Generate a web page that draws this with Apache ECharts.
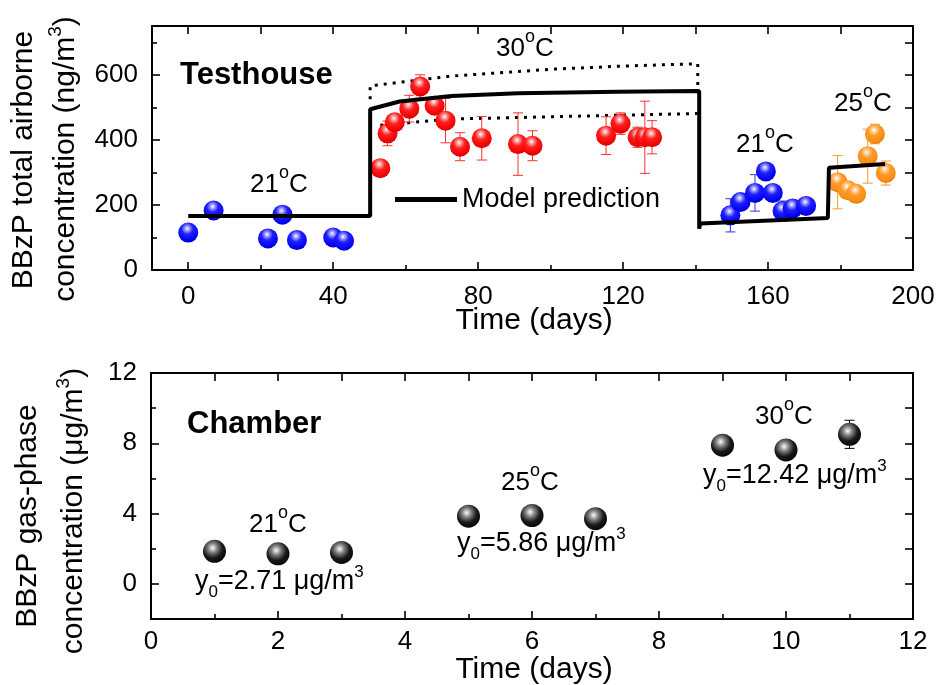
<!DOCTYPE html>
<html><head><meta charset="utf-8">
<script src="https://cdn.jsdelivr.net/npm/echarts@6/dist/echarts.min.js"></script>
<style>html,body{margin:0;padding:0;background:#fff}#c{width:939px;height:685px}</style>
</head><body><div id="c"></div>
<script>
const FONT = '"Liberation Sans", Arial, Helvetica, sans-serif';

// ---------- Testhouse (top panel) ----------
const th21aX = [0, 7, 22, 26, 30, 40, 43];
const th21aY = [115, 183, 97, 170, 92, 100, 90];
const th21aE = [10, 10, 10, 14, 10, 10, 10];

const th30X = [53, 55, 57, 61, 64, 68, 71, 75, 81, 91, 95, 115.3, 119.3, 124, 126, 128];
const th30Y = [313, 420, 454, 496, 564, 505, 459, 379, 405, 387, 382, 413, 450, 408, 408, 408];
const th30E = [10, 38, 20, 41, 36, 20, 68, 43, 67, 96, 46, 58, 33, 31, 111, 51];

const th21bX = [149.6, 152.4, 156.4, 159.4, 161.3, 164, 166.8, 170.5];
const th21bY = [168, 209, 237, 303, 237, 181, 189, 197];
const th21bE = [51, 15, 56, 10, 10, 31, 10, 10];

const th25X = [179.2, 182, 184.3, 187.5, 189.5, 192.5];
const th25Y = [270, 245, 234, 350, 418, 298];
const th25E = [82, 10, 10, 83, 30, 37];

const modelX = [0, 50.2, 50.2, 58.3, 72.6, 91, 118.5, 141, 141, 141.3, 176.5, 176.8, 192.3];
const modelY = [166, 166, 494, 518, 535, 543, 548, 550, 127, 143, 160, 314, 326];

const upperX = [50.2, 50.2, 72.6, 100, 120.4, 140.6, 140.6];
const upperY = [525, 566, 596, 617, 627, 634, 566];

const lowerX = [53, 72.6, 100, 140.6];
const lowerY = [445, 464, 471, 481];

// tick values
const thXLabels = [0, 40, 80, 120, 160, 200];
const thXMinor = [20, 60, 100, 140, 180];
const thXTop = [0, 20, 40, 60, 80, 100, 120, 140, 160, 180, 200];
const thYLabels = [0, 200, 400, 600];
const thYMinor = [100, 300, 500, 700];
const thYRight = [100, 200, 300, 400, 500, 600, 700];

// ---------- Chamber (bottom panel) ----------
const chX = [1, 2, 3, 5, 6, 7, 9, 10, 11];
const chY = [1.85, 1.71, 1.79, 3.85, 3.89, 3.71, 7.89, 7.62, 8.51];
const chE = [0.1, 0.1, 0.1, 0.1, 0.1, 0.1, 0.1, 0.1, 0.8];

const chXLabels = [0, 2, 4, 6, 8, 10, 12];
const chXMinor = [1, 3, 5, 7, 9, 11];
const chXTop = [1, 2, 3, 4, 5, 6, 7, 8, 9, 10, 11];
const chYLabels = [0, 4, 8, 12];
const chYMinor = [2, 6, 10];
const chYRight = [0, 2, 4, 6, 8, 10];

// ---------- helpers ----------
const zip2 = (xs, ys) => xs.map((x, i) => [x, ys[i]]);
const zip3 = (xs, ys, es) => xs.map((x, i) => [x, ys[i], es[i]]);

function axis(o) {
  return {
    type: 'value', gridIndex: o.grid, min: o.min, max: o.max, position: o.pos,
    axisLine: { show: !!o.line, onZero: false, lineStyle: { color: '#000', width: 2 } },
    axisTick: { show: true, inside: true, length: o.len, customValues: o.ticks,
      lineStyle: { color: '#000', width: 1.6 } },
    axisLabel: o.labels ? { show: true, customValues: o.labels, fontSize: 26, fontFamily: FONT,
      color: '#000', margin: o.margin } : { show: false },
    splitLine: { show: false }, silent: true
  };
}

function sphere(stops, cx, cy) {
  return { type: 'radial', x: cx, y: cy, r: 0.72, global: false,
    colorStops: stops.map(s => ({ offset: s[0], color: s[1] })) };
}
const blueBall = sphere([[0, '#ffffff'], [0.14, '#a8a8ff'], [0.4, '#2020ff'], [0.85, '#0000f0'], [1, '#0000b8']], 0.45, 0.3);
const redBall = sphere([[0, '#ffffff'], [0.14, '#ffa8a8'], [0.4, '#ff2020'], [0.85, '#f00000'], [1, '#c00000']], 0.45, 0.3);
const orangeBall = sphere([[0, '#ffffff'], [0.14, '#ffd6a8'], [0.4, '#ff9a28'], [0.85, '#f78b12'], [1, '#d06e00']], 0.45, 0.3);
const blackBall = sphere([[0, '#ffffff'], [0.1, '#d0d0d0'], [0.3, '#7a7a7a'], [0.6, '#1a1a1a'], [1, '#000000']], 0.42, 0.35);

function errSeries(data, color, xi, yi) {
  return {
    type: 'custom', xAxisIndex: xi, yAxisIndex: yi, z: 2, silent: true, data,
    encode: { x: 0, y: 1 },
    renderItem: function (params, api) {
      const x = api.value(0), y = api.value(1), e = api.value(2);
      const p1 = api.coord([x, y + e]), p2 = api.coord([x, y - e]);
      const hw = 5;
      const st = { stroke: color, lineWidth: 1 };
      return { type: 'group', children: [
        { type: 'line', shape: { x1: p1[0], y1: p1[1], x2: p2[0], y2: p2[1] }, style: st },
        { type: 'line', shape: { x1: p1[0] - hw, y1: p1[1], x2: p1[0] + hw, y2: p1[1] }, style: st },
        { type: 'line', shape: { x1: p2[0] - hw, y1: p2[1], x2: p2[0] + hw, y2: p2[1] }, style: st }
      ] };
    }
  };
}
function ballSeries(data, color, size, xi, yi) {
  return { type: 'scatter', xAxisIndex: xi, yAxisIndex: yi, z: 3, silent: true, data,
    symbol: 'circle', symbolSize: size, itemStyle: { color: color, opacity: 1 } };
}

// rich text styles (superscript tokens define a taller line and sit at its top)
const degRich = {
  n: { fontSize: 26, fontFamily: FONT, fill: '#000', lineHeight: 26, verticalAlign: 'middle' },
  o: { fontSize: 18, fontFamily: FONT, fill: '#000', lineHeight: 42, verticalAlign: 'top' }
};
const y0Rich = {
  n: { fontSize: 27, fontFamily: FONT, fill: '#000', lineHeight: 27, verticalAlign: 'middle' },
  b: { fontSize: 17, fontFamily: FONT, fill: '#000', lineHeight: 37, verticalAlign: 'bottom' },
  s: { fontSize: 17, fontFamily: FONT, fill: '#000', lineHeight: 37, verticalAlign: 'top' }
};
const titleRich = {
  n: { fontSize: 30, fontFamily: FONT, fill: '#000', lineHeight: 30, verticalAlign: 'middle' },
  s: { fontSize: 19, fontFamily: FONT, fill: '#000', lineHeight: 40, verticalAlign: 'top' }
};
function txt(x, y, text, rich) {
  return { type: 'text', x: x, y: y, silent: true, z: 10,
    style: { text: text, rich: rich, align: 'left', verticalAlign: 'middle', fontFamily: FONT, fontSize: 26, fill: '#000' } };
}
function boldTxt(x, y, text) {
  return { type: 'text', x: x, y: y, silent: true, z: 10,
    style: { text: text, align: 'left', verticalAlign: 'middle', fontFamily: FONT, fontSize: 31, fontWeight: 'bold', fill: '#000' } };
}
function rotTxt(x, y, text) {
  return { type: 'text', x: x, y: y, rotation: Math.PI / 2, silent: true, z: 10,
    style: { text: text, rich: titleRich, align: 'center', verticalAlign: 'middle', fontFamily: FONT, fontSize: 30, fill: '#000' } };
}
function plainTitle(x, y, text) {
  return { type: 'text', x: x, y: y, silent: true, z: 10,
    style: { text: text, align: 'center', verticalAlign: 'middle', fontFamily: FONT, fontSize: 30, fill: '#000' } };
}

const chart = echarts.init(document.getElementById('c'), null, { renderer: 'canvas' });
chart.setOption({
  animation: false,
  backgroundColor: '#ffffff',
  grid: [
    { left: 152, top: 26, width: 761, height: 244, show: false },
    { left: 151, top: 373, width: 762, height: 246, show: false }
  ],
  legend: {
    data: ['Model prediction'], left: 390, top: 181, icon: 'rect', itemWidth: 62, itemHeight: 5,
    selectedMode: false, textStyle: { fontSize: 27, fontFamily: FONT, color: '#000' }
  },
  xAxis: [
    axis({ grid: 0, min: -10, max: 200, pos: 'bottom', line: true, len: 8, ticks: thXLabels, labels: thXLabels, margin: 14 }),
    axis({ grid: 0, min: -10, max: 200, pos: 'bottom', line: false, len: 5, ticks: thXMinor }),
    axis({ grid: 0, min: -10, max: 200, pos: 'top', line: true, len: 8, ticks: thXTop }),
    axis({ grid: 1, min: 0, max: 12, pos: 'bottom', line: true, len: 8, ticks: chXLabels, labels: chXLabels, margin: 10 }),
    axis({ grid: 1, min: 0, max: 12, pos: 'bottom', line: false, len: 5, ticks: chXMinor }),
    axis({ grid: 1, min: 0, max: 12, pos: 'top', line: true, len: 8, ticks: chXTop })
  ],
  yAxis: [
    axis({ grid: 0, min: 0, max: 750, pos: 'left', line: true, len: 8, ticks: thYLabels, labels: thYLabels, margin: 14 }),
    axis({ grid: 0, min: 0, max: 750, pos: 'left', line: false, len: 5, ticks: thYMinor }),
    axis({ grid: 0, min: 0, max: 750, pos: 'right', line: true, len: 8, ticks: thYRight }),
    axis({ grid: 1, min: -2, max: 12, pos: 'left', line: true, len: 8, ticks: chYLabels, labels: chYLabels, margin: 14 }),
    axis({ grid: 1, min: -2, max: 12, pos: 'left', line: false, len: 5, ticks: chYMinor }),
    axis({ grid: 1, min: -2, max: 12, pos: 'right', line: true, len: 8, ticks: chYRight })
  ],
  series: [
    { type: 'line', name: 'upper bound', xAxisIndex: 0, yAxisIndex: 0, data: zip2(upperX, upperY),
      showSymbol: false, symbol: 'none', z: 1, silent: true,
      lineStyle: { color: '#000', width: 3, type: [3, 6] } },
    { type: 'line', name: 'lower bound', xAxisIndex: 0, yAxisIndex: 0, data: zip2(lowerX, lowerY),
      showSymbol: false, symbol: 'none', z: 1, silent: true,
      lineStyle: { color: '#000', width: 3, type: [3, 6] } },
    { type: 'line', name: 'Model prediction', xAxisIndex: 0, yAxisIndex: 0, data: zip2(modelX, modelY),
      showSymbol: false, symbol: 'none', z: 4, silent: true, color: '#000',
      itemStyle: { color: '#000' }, lineStyle: { color: '#000', width: 4 } },
    errSeries(zip3(th21aX, th21aY, th21aE), '#3030ff', 0, 0),
    errSeries(zip3(th30X, th30Y, th30E), '#ff3030', 0, 0),
    errSeries(zip3(th21bX, th21bY, th21bE), '#3030ff', 0, 0),
    errSeries(zip3(th25X, th25Y, th25E), '#ff9530', 0, 0),
    ballSeries(zip2(th21aX, th21aY), blueBall, 20, 0, 0),
    ballSeries(zip2(th30X, th30Y), redBall, 20, 0, 0),
    ballSeries(zip2(th21bX, th21bY), blueBall, 20, 0, 0),
    ballSeries(zip2(th25X, th25Y), orangeBall, 20, 0, 0),
    errSeries(zip3(chX, chY, chE), '#000000', 3, 3),
    ballSeries(zip2(chX, chY), blackBall, 23, 3, 3)
  ],
  graphic: [
    boldTxt(180, 75, 'Testhouse'),
    txt(250, 185, '{n|21}{o|o}{n|C}', degRich),
    txt(496, 49, '{n|30}{o|o}{n|C}', degRich),
    txt(736, 145, '{n|21}{o|o}{n|C}', degRich),
    txt(834, 104, '{n|25}{o|o}{n|C}', degRich),
    boldTxt(187, 424, 'Chamber'),
    txt(249, 525, '{n|21}{o|o}{n|C}', degRich),
    txt(195, 582, '{n|y}{b|0}{n|=2.71 μg/m}{s|3}', y0Rich),
    txt(501, 483, '{n|25}{o|o}{n|C}', degRich),
    txt(457, 544, '{n|y}{b|0}{n|=5.86 μg/m}{s|3}', y0Rich),
    txt(755, 417, '{n|30}{o|o}{n|C}', degRich),
    txt(703, 476, '{n|y}{b|0}{n|=12.42 μg/m}{s|3}', y0Rich),
    rotTxt(24, 160, '{n|BBzP total airborne}'),
    rotTxt(66, 159, '{n|concentration (ng/m}{s|3}{n|)}'),
    rotTxt(28, 516, '{n|BBzP gas-phase}'),
    rotTxt(74, 511, '{n|concentration (μg/m}{s|3}{n|)}'),
    plainTitle(534, 321, 'Time (days)'),
    plainTitle(534, 670, 'Time (days)')
  ]
});
</script>
</body></html>
